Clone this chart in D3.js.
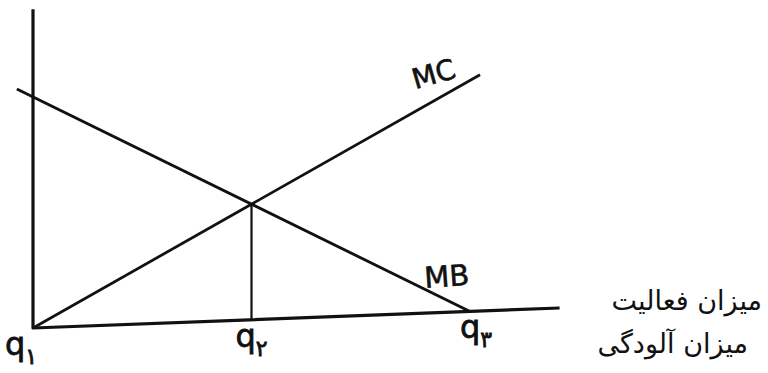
<!DOCTYPE html>
<html>
<head>
<meta charset="utf-8">
<script src="https://cdn.jsdelivr.net/npm/d3@7"></script>
<style>
  html, body { margin: 0; padding: 0; background: #fff; }
  svg { display: block; }
</style>
</head>
<body>
<div id="chart"></div>
<script>
// quantity ticks on the horizontal axis
const qValues = [0, 5, 10];
const qNames = ["q", "q", "q"];
const qSubs = ["۱", "۲", "۳"];

// marginal benefit and marginal cost lines (x, y)
const mbPoints = [[-0.37, 10.37], [10, 0]];
const mcPoints = [[0, 0], [10.23, 10.23]];

// axis lengths
const xAxisEnd = 12.05;
const yAxisEnd = 13.8;

// axis captions
const xCaptions = ["میزان فعالیت", "میزان آلودگی"];

const width = 768, height = 373;
const origin = { x: 33, y: 328 };
const tilt = -0.038; // the hand drawn x axis leans up a bit

const x = d3.scaleLinear().domain([0, 10]).range([0, 437]);
const y = d3.scaleLinear().domain([0, 10]).range([0, -231]);

// screen position of a data point, with the tilt applied
const sx = d => origin.x + x(d);
const sy = (dx, dy) => origin.y + y(dy) + tilt * x(dx);

const ink = "#111";

const svg = d3.select("#chart")
    .append("svg")
    .attr("width", width)
    .attr("height", height);

const g = svg.append("g")
    .attr("transform", "translate(" + origin.x + "," + origin.y + ") matrix(1," + tilt + ",0,1,0,0)");

const line = d3.line()
    .x(d => x(d[0]))
    .y(d => y(d[1]));

// axes
g.append("path")
    .attr("d", line([[0, yAxisEnd], [0, 0], [xAxisEnd, 0]]))
    .attr("fill", "none")
    .attr("stroke", ink)
    .attr("stroke-width", 3.2)
    .attr("stroke-linejoin", "round");

// MB and MC
[mbPoints, mcPoints].forEach(function (pts) {
    g.append("path")
        .attr("d", line(pts))
        .attr("fill", "none")
        .attr("stroke", ink)
        .attr("stroke-width", 2.8);
});

// drop line from the crossing point to q2
const cross = qValues[1];
g.append("line")
    .attr("x1", x(cross))
    .attr("x2", x(cross))
    .attr("y1", y(cross))
    .attr("y2", y(0))
    .attr("stroke", ink)
    .attr("stroke-width", 2.2);

// tick labels
const qLabel = svg.append("g").selectAll("text")
    .data(qValues)
    .enter().append("text")
    .attr("x", function (d, i) { return sx(d) + [-12, 0, 6][i]; })
    .attr("y", function (d) { return sy(d, 0) + 27; })
    .attr("text-anchor", "middle")
    .attr("font-family", "DejaVu Sans")
    .attr("font-size", 32)
    .attr("fill", ink)
    .attr("stroke", ink)
    .attr("stroke-width", 0.8)
    .text(function (d, i) { return qNames[i]; });

qLabel.append("tspan")
    .attr("dy", 9)
    .attr("font-size", 22)
    .text(function (d, i) { return qSubs[i]; });

// curve names
const mcPos = { x: sx(8.75), y: sy(8.75, 8.75) - 22 };
svg.append("text")
    .attr("x", mcPos.x)
    .attr("y", mcPos.y)
    .attr("transform", "rotate(-16," + mcPos.x + "," + mcPos.y + ")")
    .attr("font-family", "DejaVu Sans")
    .attr("font-size", 28)
    .attr("fill", ink)
    .attr("stroke", ink)
    .attr("stroke-width", 0.6)
    .text("MC");

const mbPos = { x: sx(8.97), y: sy(8.97, 1.0) - 2 };
svg.append("text")
    .attr("x", mbPos.x)
    .attr("y", mbPos.y)
    .attr("transform", "rotate(-4," + mbPos.x + "," + mbPos.y + ")")
    .attr("font-family", "DejaVu Sans")
    .attr("font-size", 29)
    .attr("fill", ink)
    .attr("stroke", ink)
    .attr("stroke-width", 0.6)
    .text("MB");

// axis captions, right to left
svg.append("g").selectAll("text")
    .data(xCaptions)
    .enter().append("text")
    .attr("x", function (d, i) { return i === 0 ? 762 : 748; })
    .attr("y", function (d, i) { return 310 + i * 43; })
    .attr("direction", "rtl")
    .attr("text-anchor", "start")
    .attr("font-family", "DejaVu Sans")
    .attr("font-size", 27)
    .attr("fill", ink)
    .text(function (d) { return d; });
</script>
</body>
</html>
